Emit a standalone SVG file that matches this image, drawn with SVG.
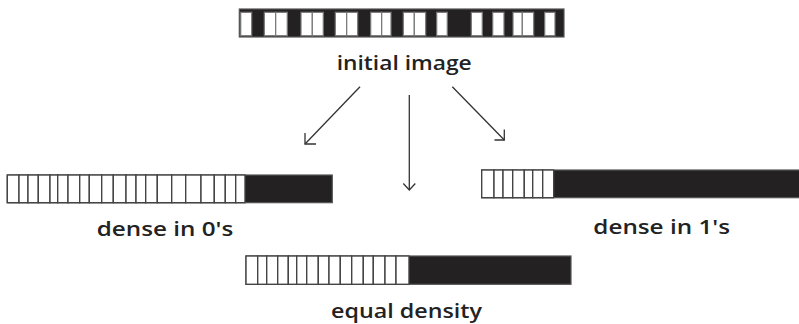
<svg xmlns="http://www.w3.org/2000/svg" width="799" height="324" viewBox="0 0 799 324">
  <defs>
    <style>
      .dark { fill: #242122; stroke: #555; stroke-width: 1.2; }
      .cell { fill: #ffffff; stroke: #444; stroke-width: 1.4; }
      .icell { fill: #ffffff; stroke: #777; stroke-width: 1.2; }
      .lbl { font-family: "Open Sans", "DejaVu Sans", sans-serif; font-size: 19px; font-weight: 600; fill: #222; }
      .arr { fill: none; stroke: #333; stroke-width: 1.3; }
    </style>
  </defs>
  <rect width="799" height="324" fill="#ffffff"/>

  <!-- initial image: dark strip with white pixels -->
  <g id="initial">
    <rect class="dark" x="239.3" y="9" width="324.7" height="28"/>
    <rect class="icell" x="240.7" y="12.3" width="11" height="23.4"/>
    <rect class="icell" x="264.3" y="12.3" width="11.4" height="23.4"/>
    <rect class="icell" x="275.7" y="12.3" width="11.6" height="23.4"/>
    <rect class="icell" x="301" y="12.3" width="11.3" height="23.4"/>
    <rect class="icell" x="312.3" y="12.3" width="11" height="23.4"/>
    <rect class="icell" x="335.3" y="12.3" width="11.4" height="23.4"/>
    <rect class="icell" x="346.7" y="12.3" width="11" height="23.4"/>
    <rect class="icell" x="370.7" y="12.3" width="11" height="23.4"/>
    <rect class="icell" x="381.7" y="12.3" width="9.3" height="23.4"/>
    <rect class="icell" x="403.3" y="12.3" width="11" height="23.4"/>
    <rect class="icell" x="414.3" y="12.3" width="11.4" height="23.4"/>
    <rect class="icell" x="436.7" y="12.3" width="10.6" height="23.4"/>
    <rect class="icell" x="471.3" y="12.3" width="11" height="23.4"/>
    <rect class="icell" x="492.7" y="12.3" width="11.3" height="23.4"/>
    <rect class="icell" x="513" y="12.3" width="9.3" height="23.4"/>
    <rect class="icell" x="522.3" y="12.3" width="11.4" height="23.4"/>
    <rect class="icell" x="544.7" y="12.3" width="10.3" height="23.4"/>
    <text class="lbl" x="336.7" y="70" textLength="135" lengthAdjust="spacingAndGlyphs">initial image</text>
  </g>

  <!-- dense in 0's -->
  <g id="dense0">
    <rect class="dark" x="7.3" y="175" width="325" height="27.7"/>
    <g>
      <rect class="cell" x="7.3" y="175" width="11.7" height="27.7"/>
      <rect class="cell" x="19" y="175" width="9" height="27.7"/>
      <rect class="cell" x="28" y="175" width="10.3" height="27.7"/>
      <rect class="cell" x="38.3" y="175" width="11.7" height="27.7"/>
      <rect class="cell" x="50" y="175" width="7.7" height="27.7"/>
      <rect class="cell" x="57.7" y="175" width="10.3" height="27.7"/>
      <rect class="cell" x="68" y="175" width="11.7" height="27.7"/>
      <rect class="cell" x="79.7" y="175" width="9.6" height="27.7"/>
      <rect class="cell" x="89.3" y="175" width="12.4" height="27.7"/>
      <rect class="cell" x="101.7" y="175" width="11.6" height="27.7"/>
      <rect class="cell" x="113.3" y="175" width="12.7" height="27.7"/>
      <rect class="cell" x="126" y="175" width="10" height="27.7"/>
      <rect class="cell" x="136" y="175" width="9.7" height="27.7"/>
      <rect class="cell" x="145.7" y="175" width="11.6" height="27.7"/>
      <rect class="cell" x="157.3" y="175" width="14.4" height="27.7"/>
      <rect class="cell" x="171.7" y="175" width="14" height="27.7"/>
      <rect class="cell" x="185.7" y="175" width="15.3" height="27.7"/>
      <rect class="cell" x="201" y="175" width="13.3" height="27.7"/>
      <rect class="cell" x="214.3" y="175" width="11" height="27.7"/>
      <rect class="cell" x="225.3" y="175" width="10.4" height="27.7"/>
      <rect class="cell" x="235.7" y="175" width="9.3" height="27.7"/>
    </g>
    <text class="lbl" x="96.7" y="236" textLength="136.6" lengthAdjust="spacingAndGlyphs">dense in 0's</text>
  </g>

  <!-- dense in 1's -->
  <g id="dense1">
    <rect class="dark" x="481.7" y="170" width="318" height="27.7"/>
    <rect class="cell" x="481.7" y="170" width="12.3" height="27.7"/>
    <rect class="cell" x="494" y="170" width="9" height="27.7"/>
    <rect class="cell" x="503" y="170" width="9.7" height="27.7"/>
    <rect class="cell" x="512.7" y="170" width="11.6" height="27.7"/>
    <rect class="cell" x="524.3" y="170" width="8.4" height="27.7"/>
    <rect class="cell" x="532.7" y="170" width="10" height="27.7"/>
    <rect class="cell" x="542.7" y="170" width="11" height="27.7"/>
    <text class="lbl" x="593.3" y="234.3" textLength="136.7" lengthAdjust="spacingAndGlyphs">dense in 1's</text>
  </g>

  <!-- equal density -->
  <g id="equal">
    <rect class="dark" x="246" y="256" width="325" height="28.3"/>
    <rect class="cell" x="246" y="256" width="11.7" height="28.3"/>
    <rect class="cell" x="257.7" y="256" width="9" height="28.3"/>
    <rect class="cell" x="266.7" y="256" width="11" height="28.3"/>
    <rect class="cell" x="277.7" y="256" width="10.6" height="28.3"/>
    <rect class="cell" x="288.3" y="256" width="8.4" height="28.3"/>
    <rect class="cell" x="296.7" y="256" width="10" height="28.3"/>
    <rect class="cell" x="306.7" y="256" width="11.6" height="28.3"/>
    <rect class="cell" x="318.3" y="256" width="10.7" height="28.3"/>
    <rect class="cell" x="329" y="256" width="11.3" height="28.3"/>
    <rect class="cell" x="340.3" y="256" width="11.4" height="28.3"/>
    <rect class="cell" x="351.7" y="256" width="11.6" height="28.3"/>
    <rect class="cell" x="363.3" y="256" width="10" height="28.3"/>
    <rect class="cell" x="373.3" y="256" width="11.7" height="28.3"/>
    <rect class="cell" x="385" y="256" width="11" height="28.3"/>
    <rect class="cell" x="396" y="256" width="13" height="28.3"/>
    <text class="lbl" x="331" y="318.3" textLength="151" lengthAdjust="spacingAndGlyphs">equal density</text>
  </g>

  <!-- connectors: thin lines with open chevron heads -->
  <g id="connectors" class="arr">
    <path d="M360 86.7 L305 144"/>
    <path d="M305 133 L305 144 L316 144"/>
    <path d="M409.3 95 L409.3 190"/>
    <path d="M403.3 183.5 L409.3 190 L415.3 183.5"/>
    <path d="M452.3 86.7 L504.3 140"/>
    <path d="M504.3 129.5 L504.3 140 L494.5 140"/>
  </g>
</svg>
